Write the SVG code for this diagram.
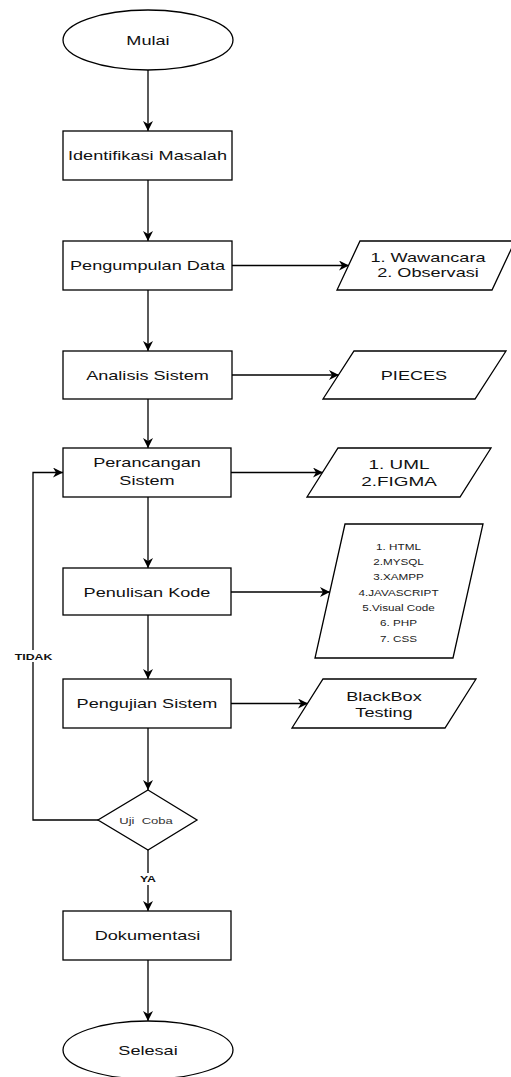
<svg xmlns="http://www.w3.org/2000/svg" width="511" height="1077" viewBox="0 0 511 1077">
<style>
.s{fill:#fff;stroke:#000;stroke-width:1.3}
.c{fill:none;stroke:#000;stroke-width:1.3}
text{font-family:"Liberation Sans",Arial,sans-serif;fill:#111;text-anchor:middle}
.m{font-size:12.5px}
.b{font-size:8.5px;font-weight:bold}
.sm{font-size:9px;fill:#333}
</style>
<defs>
<marker id="ah" viewBox="0 0 10 10" refX="10" refY="5" markerWidth="10" markerHeight="10" markerUnits="userSpaceOnUse" orient="auto">
<path d="M0,0 L10,5 L0,10 L3,5 Z" fill="#000"/>
</marker>
</defs>
<rect width="511" height="1077" fill="#fff"/>
<g id="connectors">
<path class="c" d="M148,70 V131" marker-end="url(#ah)"/>
<path class="c" d="M148,180 V241" marker-end="url(#ah)"/>
<path class="c" d="M232,265.5 H349" marker-end="url(#ah)"/>
<path class="c" d="M148,290 V351" marker-end="url(#ah)"/>
<path class="c" d="M232,375 H339" marker-end="url(#ah)"/>
<path class="c" d="M148,399 V448" marker-end="url(#ah)"/>
<path class="c" d="M231,472.5 H323" marker-end="url(#ah)"/>
<path class="c" d="M148,497 V568" marker-end="url(#ah)"/>
<path class="c" d="M231,592 H330" marker-end="url(#ah)"/>
<path class="c" d="M148,615 V679" marker-end="url(#ah)"/>
<path class="c" d="M231,703.5 H308" marker-end="url(#ah)"/>
<path class="c" d="M148,728 V790" marker-end="url(#ah)"/>
<path class="c" d="M98,820 H33 V472.5 H63" marker-end="url(#ah)"/>
<path class="c" d="M148,850 V911" marker-end="url(#ah)"/>
<path class="c" d="M148,960 V1021" marker-end="url(#ah)"/>
<rect x="14" y="650" width="39" height="12" fill="#fff"/>
<text class="b" transform="translate(33.5 659.5) scale(1.45 1)">TIDAK</text>
<rect x="138" y="873" width="20" height="12" fill="#fff"/>
<text class="b" transform="translate(148 882) scale(1.45 1)">YA</text>
</g>
<g id="mulai">
<ellipse class="s" cx="148" cy="40" rx="85" ry="30"/>
<text class="m" transform="translate(148 44.5) scale(1.45 1)">Mulai</text>
</g>
<g id="identifikasi">
<rect class="s" x="63" y="131" width="169" height="49"/>
<text class="m" transform="translate(147.5 160) scale(1.45 1)">Identifikasi Masalah</text>
</g>
<g id="pengumpulan">
<rect class="s" x="63" y="241" width="169" height="49"/>
<text class="m" transform="translate(147.5 270) scale(1.45 1)">Pengumpulan Data</text>
</g>
<g id="wawancara">
<path class="s" d="M360,241 H515 L492,290 H337 Z"/>
<text class="m" transform="translate(428 261.5) scale(1.45 1)"><tspan x="0">1. Wawancara</tspan><tspan x="0" dy="15.5">2. Observasi</tspan></text>
</g>
<g id="analisis">
<rect class="s" x="63" y="351" width="169" height="48"/>
<text class="m" transform="translate(147.5 379.5) scale(1.45 1)">Analisis Sistem</text>
</g>
<g id="pieces">
<path class="s" d="M354,351 H506 L475,399 H323 Z"/>
<text class="m" transform="translate(414 380) scale(1.45 1)">PIECES</text>
</g>
<g id="perancangan">
<rect class="s" x="63" y="448" width="168" height="49"/>
<text class="m" transform="translate(147 467) scale(1.45 1)"><tspan x="0">Perancangan</tspan><tspan x="0" dy="18">Sistem</tspan></text>
</g>
<g id="uml">
<path class="s" d="M338,448 H491 L460,497 H307 Z"/>
<text style="font-size:13.5px" transform="translate(399 468.5) scale(1.4 1)"><tspan x="0">1. UML</tspan><tspan x="0" dy="18">2.FIGMA</tspan></text>
</g>
<g id="penulisan">
<rect class="s" x="63" y="568" width="168" height="47"/>
<text class="m" transform="translate(147 596.5) scale(1.45 1)">Penulisan Kode</text>
</g>
<g id="tools">
<path class="s" d="M345,524 H483 L453,658 H315 Z"/>
<text class="sm" style="fill:#222" transform="translate(398.5 549.5) scale(1.3 1)"><tspan x="0">1. HTML</tspan><tspan x="0" dy="15.4">2.MYSQL</tspan><tspan x="0" dy="15.4">3.XAMPP</tspan><tspan x="0" dy="15.4">4.JAVASCRIPT</tspan><tspan x="0" dy="15.4">5.Visual Code</tspan><tspan x="0" dy="15.4">6. PHP</tspan><tspan x="0" dy="15.4">7. CSS</tspan></text>
</g>
<g id="pengujian">
<rect class="s" x="63" y="679" width="168" height="49"/>
<text class="m" transform="translate(147 708) scale(1.45 1)">Pengujian Sistem</text>
</g>
<g id="blackbox">
<path class="s" d="M323,679 H476 L445,728 H292 Z"/>
<text class="m" transform="translate(384 700.5) scale(1.45 1)"><tspan x="0">BlackBox</tspan><tspan x="0" dy="16.5">Testing</tspan></text>
</g>
<g id="ujicoba">
<path class="s" d="M148,790 L197,820 L148,850 L98,820 Z"/>
<text class="sm" transform="translate(146 824) scale(1.45 1)" xml:space="preserve">Uji  Coba</text>
</g>
<g id="dokumentasi">
<rect class="s" x="63" y="911" width="168" height="49"/>
<text class="m" transform="translate(147.5 940) scale(1.45 1)">Dokumentasi</text>
</g>
<g id="selesai">
<ellipse class="s" cx="148" cy="1050" rx="85" ry="29"/>
<text class="m" transform="translate(148 1055) scale(1.45 1)">Selesai</text>
</g>
</svg>
